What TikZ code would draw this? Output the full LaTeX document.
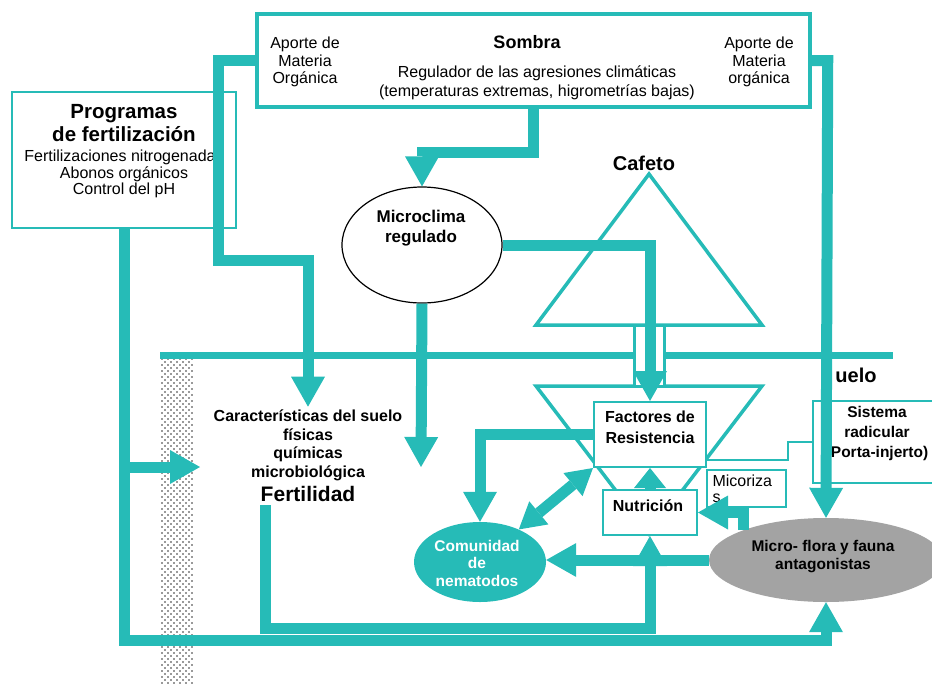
\documentclass[tikz,border=0pt]{standalone}
\usepackage{fontspec}
\setmainfont{Liberation Sans}
\usetikzlibrary{arrows.meta,shapes.geometric,patterns}
\definecolor{turq}{RGB}{38,187,183}
\definecolor{gris}{RGB}{163,163,163}
\pgfdeclarepatternformonly{puntos}{\pgfqpoint{-1pt}{-1pt}}{\pgfqpoint{7pt}{7pt}}{\pgfqpoint{6pt}{6pt}}{%
  \pgfpathcircle{\pgfqpoint{0pt}{0pt}}{0.8pt}\pgfpathcircle{\pgfqpoint{3pt}{3pt}}{0.8pt}\pgfusepath{fill}}
\tikzset{flow/.style={draw=turq,line width=11pt,->}}
\tikzset{caja/.style={draw=turq,line width=2pt,fill=white,inner sep=0pt}}
\tikzset{tx/.style={font=\fontsize{16}{17.5}\selectfont,align=center}}
\tikzset{bx/.style={font=\bfseries\fontsize{16}{19}\selectfont,align=center}}

\begin{document}
\begin{tikzpicture}[x=1pt,y=-1pt,>={Triangle[length=30pt,width=34pt,line width=0pt]}]
            \useasboundingbox (0,0) rectangle (932,683);
            \fill[pattern=puntos,pattern color=black!80] (160,358) rectangle (193,683);
            \draw[turq,line width=7pt] (160,355) -- (893,355);
            \draw[turq,line width=3.5pt] (649,174) -- (762,325) -- (536,325) -- cycle;
            \draw[turq,line width=3.5pt] (536,386) -- (762,386) -- (649,534) -- cycle;
            \draw[turq,line width=3pt,fill=white] (634,325) rectangle (664,386);
            \node[bx,font=\bfseries\fontsize{20}{22}\selectfont] (cafeto) at (644,163) {Cafeto};
            \node[bx,font=\bfseries\fontsize{20}{22}\selectfont] (suelo) at (856,375) {uelo};

            \node[caja,line width=3.5pt,minimum width=553pt,minimum height=93pt] (sombra) at (533.5,60.5) {};
            \node[tx] at (305,62) {Aporte de\\Materia\\Orgánica};
            \node[bx,font=\bfseries\fontsize{18}{20}\selectfont] at (527,42) {Sombra};
            \node[tx,font=\fontsize{16}{19}\selectfont] at (537,83) {Regulador de las agresiones climáticas\\(temperaturas extremas, higrometrías bajas)};
            \node[tx] at (759,62) {Aporte de\\Materia\\orgánica};

            \node[caja,minimum width=224pt,minimum height=136pt] (prog) at (124,160) {};
            \node[bx,font=\bfseries\fontsize{20.5}{23}\selectfont] at (124,123) {Programas\\de fertilización};
            \node[tx,font=\fontsize{16}{16.5}\selectfont] at (124,174) {Fertilizaciones nitrogenadas\\Abonos orgánicos\\Control del pH};

            \node[ellipse,draw=black,line width=1.2pt,fill=white,minimum width=160pt,minimum height=116pt] (micro) at (422,245) {};
            \node[bx,font=\bfseries\fontsize{17}{20}\selectfont] at (421,228) {Microclima\\regulado};

            \node[caja,minimum width=112pt,minimum height=65pt] (factores) at (650,434.5) {};
            \node[bx,font=\bfseries\fontsize{16}{21}\selectfont] at (650,427) {Factores de\\Resistencia};
            \node[caja,minimum width=94pt,minimum height=45pt] (nutri) at (650,512.5) {};
            \node[bx] at (648,506) {Nutrición};
            \node[caja,minimum width=79pt,minimum height=37pt] (micor) at (746.5,488.5) {};
            \node[tx,align=left,anchor=west,font=\fontsize{16}{16}\selectfont] at (709,489) {Micoriza\\s};
            \node[caja,minimum width=140pt,minimum height=82pt] (sistema) at (883,442) {};
            \node[bx,font=\bfseries\fontsize{15.5}{20}\selectfont] at (877,433) {Sistema\\radicular\\(Porta-injerto)};

            \node[ellipse,fill=turq,minimum width=132pt,minimum height=80pt] (comun) at (480,562) {};
            \node[bx,white,font=\bfseries\fontsize{15.5}{17.5}\selectfont] at (477,563) {Comunidad\\de\\nematodos};
            \node[ellipse,fill=gris,minimum width=234pt,minimum height=84pt] (antag) at (826,560) {};
            \node[bx,font=\bfseries\fontsize{15.5}{18}\selectfont] at (823,557) {Micro- flora y fauna\\antagonistas};

            \node[bx,font=\bfseries\fontsize{16}{18.5}\selectfont] (caract) at (308,445.5) {Características del suelo\\físicas\\químicas\\microbiológica};
            \node[bx,font=\bfseries\fontsize{21}{23}\selectfont] (fert) at (308,494) {Fertilidad};
            \coordinate (soilin) at (421,467);
            \coordinate (soilleft) at (200,467);

            \draw[flow] (sombra.west) -| (218,260) -| (caract.north);
            \draw[flow] (sombra.east) -- ++(16,0) -- (antag.north);
            \draw[flow] (sombra.south) -- ++(0,44) -| (micro.north);
            \draw[flow] (micro.east) -| (factores.north);
            \draw[flow] (micro.south) -- (soilin);
            \draw[flow] (prog.south) |- ([yshift=-38pt]antag.south) -- (antag.south);
            \draw[flow] (prog.south |- soilleft) -- (soilleft);
            \draw[flow] ([xshift=8pt]fert.south west) |- ([yshift=-92pt]nutri.south) -- (nutri.south);
            \draw[flow] (factores.west) -| (comun.north);
            \draw[flow,<->,>={Triangle[length=26pt,width=30pt,line width=0pt]}] (comun.40) -- (factores.south west);
            \draw[flow] (antag.west) -- (antag.west -| comun.east);
            \draw[flow] (antag.160) |- (nutri.east);
            \draw[flow,>={Triangle[length=20pt,width=32pt,line width=0pt]}] (nutri.north) -- (factores.south);
            \draw[turq,line width=2pt] ([yshift=-25.5pt]factores.east) -- ++(81,0) |- (sistema.west);
\end{tikzpicture}
\end{document}
